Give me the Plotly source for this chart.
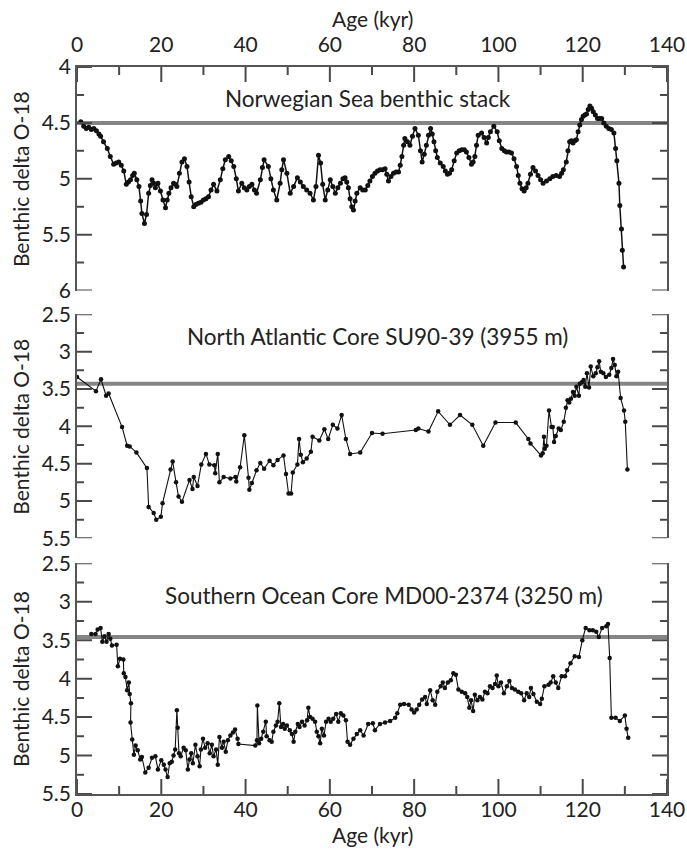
import plotly.graph_objects as go

# ---------------- data ----------------
nor_age = [0.9, 1.6, 2.2, 2.8, 3.4, 4.0, 4.6, 5.2, 5.6, 6.3, 7.2, 7.9, 8.7, 9.3, 9.9, 10.5, 11.1, 11.7, 12.2, 12.7,
           13.2, 13.6, 14.2, 14.7, 15.1, 15.4, 16.0, 16.5, 17.0, 17.4, 17.8, 18.2, 18.6, 19.2, 19.8, 20.4, 21.0, 21.4,
           21.8, 22.3, 22.9, 23.3, 23.7, 24.3, 24.9, 25.5, 26.1, 26.6, 27.1, 27.7, 28.2, 28.8, 29.4, 30.0, 30.6, 31.2,
           31.8, 32.4, 33.2, 34.0, 34.6, 35.2, 36.0, 36.6, 37.2, 37.8, 38.3, 39.1, 39.7, 40.3, 40.9, 41.5, 42.1, 42.6,
           43.5, 44.0, 44.4, 45.4, 46.0, 46.6, 47.4, 48.2, 48.6, 49.0, 49.8, 50.6, 51.4, 52.3, 53.0, 53.7, 54.5, 55.3,
           56.1, 56.7, 57.3, 57.8, 58.3, 58.9, 59.5, 60.1, 60.7, 61.3, 61.9, 62.5, 63.1, 63.6, 64.0, 64.4, 64.8, 65.2,
           65.6, 66.0, 66.4, 67.2, 67.8, 68.4, 69.0, 69.5, 70.1, 70.7, 71.3, 71.9, 72.5, 73.1, 73.5, 73.9, 74.5, 75.1,
           75.7, 76.3, 76.7, 77.1, 77.5, 77.8, 78.4, 79.0, 79.6, 80.2, 81.0, 81.5, 81.9, 82.4, 82.9, 83.4, 83.9, 84.3,
           84.7, 85.1, 85.5, 86.2, 86.9, 87.4, 87.9, 88.4, 88.9, 89.5, 90.1, 90.7, 91.3, 91.9, 92.4, 93.0, 93.6, 94.0,
           94.4, 94.8, 95.2, 96.0, 96.6, 97.2, 97.6, 98.1, 98.9, 99.7, 100.2, 100.8, 101.4, 101.9, 102.5, 103.1, 103.7,
           104.3, 104.7, 105.1, 105.6, 106.1, 106.6, 107.0, 107.6, 108.2, 108.8, 109.4, 110.0, 110.6, 111.4, 112.2,
           112.9, 113.7, 114.5, 115.0, 115.4, 116.1, 116.5, 116.9, 117.3, 117.7, 118.1, 118.5, 118.9, 119.3, 119.7,
           120.1, 120.5, 120.9, 121.3, 121.7, 122.1, 122.5, 123.0, 123.5, 124.0, 124.5, 125.0, 125.6, 126.2, 126.8,
           127.4, 127.8, 128.1, 128.6, 128.8, 129.2, 129.4, 129.7]
nor_d18o = [4.49, 4.53, 4.55, 4.54, 4.56, 4.55, 4.57, 4.60, 4.62, 4.67, 4.73, 4.80, 4.87, 4.86, 4.85, 4.88, 4.93, 5.05,
            5.03, 5.01, 4.97, 4.95, 5.01, 5.07, 5.20, 5.31, 5.40, 5.32, 5.13, 5.06, 5.01, 5.04, 5.08, 5.04, 5.11, 5.19,
            5.26, 5.19, 5.13, 5.08, 5.04, 5.05, 5.07, 4.95, 4.85, 4.82, 4.89, 5.03, 5.16, 5.25, 5.23, 5.22, 5.21, 5.19,
            5.18, 5.16, 5.10, 5.05, 5.11, 5.01, 4.91, 4.83, 4.80, 4.84, 4.89, 5.00, 5.11, 5.04, 5.08, 5.10, 5.07, 5.05,
            5.10, 5.13, 5.01, 4.90, 4.83, 4.89, 5.00, 5.10, 5.19, 5.04, 4.92, 4.83, 4.95, 5.13, 5.07, 4.99, 5.03, 5.07,
            5.10, 5.13, 5.19, 5.07, 4.79, 4.86, 5.05, 5.19, 5.10, 5.01, 5.07, 5.13, 5.08, 5.04, 5.00, 4.99, 5.03, 5.08,
            5.18, 5.25, 5.28, 5.20, 5.13, 5.08, 5.10, 5.10, 5.06, 5.02, 4.98, 4.95, 4.93, 4.92, 4.92, 4.91, 4.96, 5.02,
            4.98, 4.95, 4.94, 4.94, 4.88, 4.80, 4.70, 4.64, 4.67, 4.70, 4.62, 4.55, 4.61, 4.75, 4.85, 4.78, 4.70, 4.61,
            4.55, 4.60, 4.67, 4.75, 4.81, 4.86, 4.89, 4.93, 4.96, 4.95, 4.92, 4.84, 4.77, 4.75, 4.74, 4.74, 4.76, 4.81,
            4.87, 4.85, 4.80, 4.70, 4.61, 4.59, 4.63, 4.68, 4.63, 4.58, 4.53, 4.58, 4.66, 4.73, 4.75, 4.76, 4.76, 4.77,
            4.82, 4.89, 4.97, 5.04, 5.09, 5.11, 5.08, 5.04, 4.96, 4.90, 4.93, 4.97, 5.01, 5.04, 5.02, 5.00, 4.98, 4.97,
            4.98, 4.95, 4.92, 4.85, 4.75, 4.67, 4.66, 4.68, 4.66, 4.65, 4.58, 4.52, 4.47, 4.44, 4.43, 4.42, 4.38, 4.35,
            4.37, 4.40, 4.43, 4.46, 4.46, 4.46, 4.50, 4.53, 4.55, 4.56, 4.59, 4.73, 4.84, 5.04, 5.24, 5.45, 5.64, 5.79]

na_age = [0.0, 4.5, 5.7, 6.9, 7.5, 10.7, 11.9, 12.5, 14.1, 16.6, 17.0, 18.2, 18.8, 19.9, 20.3, 22.2, 22.7, 23.5, 24.1,
          24.9, 26.7, 27.4, 27.7, 28.6, 29.5, 30.6, 31.4, 32.6, 32.8, 33.4, 33.8, 34.8, 36.4, 37.6, 37.8, 38.7, 39.7,
          40.7, 40.9, 41.5, 42.6, 43.5, 44.4, 45.7, 46.6, 47.6, 49.0, 49.6, 50.2, 50.8, 51.2, 52.3, 52.7, 53.1, 53.6,
          54.5, 55.5, 55.9, 57.5, 58.7, 59.6, 60.7, 61.8, 62.8, 63.8, 64.8, 67.2, 70.0, 72.5, 80.4, 81.0, 83.4, 85.7,
          88.5, 90.9, 93.8, 96.4, 99.3, 104.1, 107.1, 107.6, 110.1, 110.5, 110.8, 111.0, 111.4, 112.0, 112.6, 112.9,
          113.2, 113.6, 114.3, 114.8, 115.5, 116.0, 116.4, 116.8, 117.2, 117.7, 118.1, 118.5, 119.1, 119.3, 119.8,
          120.2, 120.6, 121.0, 121.5, 121.9, 122.5, 123.1, 123.5, 123.9, 124.3, 124.9, 125.5, 126.3, 126.8, 127.2,
          127.6, 128.0, 128.4, 129.0, 129.8, 130.1, 130.6]
na_d18o = [3.34, 3.53, 3.37, 3.59, 3.56, 4.01, 4.26, 4.27, 4.35, 4.56, 5.08, 5.16, 5.25, 5.21, 5.03, 4.58, 4.47, 4.75,
           4.94, 5.01, 4.72, 4.84, 4.68, 4.80, 4.51, 4.37, 4.51, 4.52, 4.63, 4.37, 4.75, 4.68, 4.70, 4.68, 4.74, 4.55,
           4.12, 4.69, 4.85, 4.76, 4.59, 4.49, 4.57, 4.46, 4.52, 4.45, 4.39, 4.64, 4.90, 4.90, 4.62, 4.51, 4.17, 4.38,
           4.48, 4.43, 4.34, 4.14, 4.19, 4.04, 4.17, 3.98, 4.03, 3.85, 4.17, 4.37, 4.35, 4.09, 4.10, 4.05, 4.03, 4.07,
           3.80, 3.98, 3.85, 3.98, 4.26, 3.95, 3.95, 4.17, 4.23, 4.39, 4.36, 4.14, 4.30, 4.26, 3.79, 4.01, 4.01, 4.21,
           4.13, 4.03, 4.05, 3.94, 3.75, 3.65, 3.68, 3.63, 3.54, 3.59, 3.47, 3.59, 3.43, 3.41, 3.38, 3.47, 3.29, 3.48,
           3.20, 3.33, 3.29, 3.21, 3.13, 3.27, 3.29, 3.34, 3.31, 3.22, 3.10, 3.18, 3.33, 3.27, 3.62, 3.79, 3.94, 4.58]

so_age = [3.4, 4.4, 4.9, 5.6, 6.0, 6.5, 7.0, 7.5, 7.9, 8.3, 9.4, 9.7, 10.2, 11.0, 11.1, 11.5, 11.9, 12.3, 12.5, 12.8,
          12.7, 13.1, 13.5, 13.9, 14.4, 15.0, 15.4, 16.2, 17.0, 17.8, 18.6, 19.2, 20.0, 20.6, 21.0, 21.5, 22.0, 22.5,
          22.9, 23.3, 23.7, 23.9, 24.2, 24.6, 25.3, 25.8, 26.3, 26.7, 27.1, 27.5, 28.1, 28.6, 29.1, 29.4, 29.9, 30.4,
          31.0, 31.5, 32.0, 32.4, 33.0, 33.4, 33.8, 34.4, 34.8, 35.3, 35.8, 36.4, 37.0, 37.5, 38.1, 38.3, 42.3, 42.7,
          42.8, 43.2, 43.7, 44.2, 44.8, 45.0, 45.7, 46.2, 46.6, 47.2, 47.6, 48.0, 48.4, 48.9, 49.3, 49.8, 50.5, 51.0,
          51.4, 51.8, 52.4, 52.8, 53.4, 54.0, 54.6, 54.9, 55.3, 55.9, 56.5, 56.9, 57.3, 57.7, 58.1, 58.6, 59.1, 59.7,
          60.2, 60.8, 61.5, 62.0, 62.6, 63.2, 63.8, 64.2, 64.8, 65.6, 66.4, 67.2, 68.0, 69.1, 70.2, 70.7, 71.9, 73.1,
          74.3, 75.5, 76.0, 76.7, 77.6, 78.7, 79.4, 80.0, 80.6, 81.2, 81.9, 82.6, 83.0, 83.8, 84.4, 85.0, 85.5, 86.3,
          86.8, 87.3, 88.0, 88.7, 89.3, 89.9, 90.5, 91.3, 92.1, 92.6, 93.1, 93.5, 94.0, 94.4, 95.0, 95.6, 96.2, 96.8,
          97.4, 98.0, 98.6, 99.2, 99.6, 100.0, 100.6, 101.3, 102.0, 102.6, 103.2, 103.9, 104.7, 105.4, 106.1, 106.7,
          107.3, 107.7, 108.3, 109.1, 109.9, 110.3, 110.9, 111.9, 112.4, 113.0, 113.6, 114.2, 115.0, 115.8, 116.3,
          117.1, 118.1, 119.1, 119.9, 120.7, 121.6, 122.4, 123.2, 123.8, 124.6, 125.6, 126.0, 126.4, 126.8, 127.8,
          128.8, 130.0, 130.4, 130.8]
so_d18o = [3.42, 3.42, 3.36, 3.34, 3.52, 3.45, 3.52, 3.42, 3.48, 3.57, 3.56, 3.84, 3.74, 3.75, 3.93, 3.98, 4.15, 4.05,
           4.20, 4.32, 4.57, 4.79, 4.99, 4.87, 4.93, 5.05, 5.02, 5.22, 5.16, 5.03, 5.01, 5.18, 5.06, 5.12, 5.18, 5.28,
           5.10, 5.08, 5.00, 4.92, 4.41, 4.64, 4.97, 5.01, 4.90, 4.93, 5.18, 5.05, 4.97, 5.10, 4.86, 5.01, 5.14, 4.92,
           4.78, 4.90, 4.84, 4.97, 4.86, 5.01, 4.92, 5.12, 4.76, 4.90, 4.82, 4.95, 4.80, 4.74, 4.70, 4.66, 4.78, 4.85,
           4.87, 4.80, 4.35, 4.84, 4.78, 4.69, 4.56, 4.75, 4.80, 4.82, 4.69, 4.61, 4.56, 4.32, 4.63, 4.59, 4.65, 4.61,
           4.67, 4.72, 4.82, 4.69, 4.59, 4.63, 4.56, 4.61, 4.54, 4.38, 4.50, 4.52, 4.56, 4.69, 4.75, 4.84, 4.65, 4.74,
           4.56, 4.52, 4.56, 4.52, 4.46, 4.56, 4.45, 4.48, 4.54, 4.82, 4.86, 4.78, 4.72, 4.67, 4.74, 4.59, 4.58, 4.67,
           4.59, 4.57, 4.55, 4.51, 4.45, 4.34, 4.33, 4.34, 4.40, 4.44, 4.40, 4.34, 4.27, 4.24, 4.33, 4.15, 4.28, 4.34,
           4.17, 4.10, 4.05, 4.12, 4.05, 4.02, 3.93, 3.95, 4.14, 4.17, 4.19, 4.24, 4.38, 4.28, 4.42, 4.21, 4.28, 4.24,
           4.27, 4.17, 4.19, 4.10, 4.12, 4.07, 3.96, 4.10, 4.05, 4.19, 4.10, 4.03, 4.12, 4.14, 4.17, 4.19, 4.28, 4.19,
           4.24, 4.12, 4.20, 4.30, 4.33, 4.26, 4.10, 4.08, 4.05, 3.97, 4.05, 4.12, 3.97, 3.97, 3.89, 3.80, 3.71, 3.72,
           3.50, 3.34, 3.37, 3.37, 3.39, 3.46, 3.34, 3.32, 3.29, 3.73, 4.51, 4.51, 4.55, 4.48, 4.65, 4.77]

panel_titles = ["Norwegian Sea benthic stack",
                "North Atlantic Core SU90-39 (3955 m)",
                "Southern Ocean Core MD00-2374 (3250 m)"]
ref_levels = [4.5, 3.43, 3.46]
y_ranges = [[6, 4], [5.5, 2.5], [5.5, 2.5]]
x_title = "Age (kyr)"
y_title = "Benthic delta O-18"
x_span = [0, 140]
x_major = [0, 20, 40, 60, 80, 100, 120, 140]
x_minor = [10, 30, 50, 70, 90, 110, 130]
y_major = [[4, 4.5, 5, 5.5, 6],
           [2.5, 3, 3.5, 4, 4.5, 5, 5.5],
           [2.5, 3, 3.5, 4, 4.5, 5, 5.5]]
y_minor = [[4.25, 4.75, 5.25, 5.75],
           [2.75, 3.25, 3.75, 4.25, 4.75, 5.25],
           [2.75, 3.25, 3.75, 4.25, 4.75, 5.25]]

# ---------------- figure ----------------
FONT = "Lato, 'Open Sans', sans-serif"
AXC = "#555555"
TKC = "#4a4a4a"
fig = go.Figure()

H = 727.0
W = 590.0
def pd(py):
    return (794.0 - py) / H

domains = [[pd(290.5), 1.0], [pd(538.3), pd(314.3)], [0.0, pd(563.3)]]
panel_px = [(d[1] - d[0]) * H for d in domains]
tickfont = dict(family=FONT, size=21, color="#222")

series = [(nor_age, nor_d18o), (na_age, na_d18o), (so_age, so_d18o)]
line_w = [1.5, 1.1, 1.1]
mark_s = [5, 4.5, 4.5]
for i, (xs, ys) in enumerate(series):
    xa = "x" if i == 0 else f"x{i+1}"
    ya = "y" if i == 0 else f"y{i+1}"
    fig.add_trace(go.Scatter(x=x_span, y=[ref_levels[i]] * 2, mode="lines",
                             line=dict(color="#858585", width=4), xaxis=xa, yaxis=ya,
                             hoverinfo="skip", showlegend=False))
    fig.add_trace(go.Scatter(x=xs, y=ys, mode="lines+markers",
                             line=dict(color="#111111", width=line_w[i]),
                             marker=dict(size=mark_s[i], color="#111111"),
                             xaxis=xa, yaxis=ya, showlegend=False))

# inside tick marks, drawn as line segments at the tick values of each axis
kx = (x_span[1] - x_span[0]) / W            # x units per pixel
for i in range(3):
    xa = "x" if i == 0 else f"x{i+1}"
    ya = "y" if i == 0 else f"y{i+1}"
    lo, hi = min(y_ranges[i]), max(y_ranges[i])
    ky = (hi - lo) / panel_px[i]            # y units per pixel
    tx, ty = [], []
    for vals, ln in ((y_major[i], 15.0), (y_minor[i], 7.0)):
        for v in vals:
            tx += [x_span[0], x_span[0] + ln * kx, None, x_span[1], x_span[1] - ln * kx, None]
            ty += [v, v, None, v, v, None]
    if i == 0:       # top axis of first panel (value lo at top, inside = larger values)
        for vals, ln in ((x_major, 15.0), (x_minor, 8.0)):
            for v in vals:
                tx += [v, v, None]
                ty += [lo, lo + ln * ky, None]
    if i == 2:       # bottom axis of last panel (value hi at bottom, inside = smaller values)
        for vals, ln in ((x_major, 15.0), (x_minor, 8.0)):
            for v in vals:
                tx += [v, v, None]
                ty += [hi, hi - ln * ky, None]
    fig.add_trace(go.Scatter(x=tx, y=ty, mode="lines", line=dict(color=TKC, width=2),
                             xaxis=xa, yaxis=ya, hoverinfo="skip", showlegend=False))

lay = {}
for i in range(3):
    key = "xaxis" if i == 0 else f"xaxis{i+1}"
    ax = dict(range=x_span, tickvals=x_major, ticks="", showline=True, linecolor=AXC, linewidth=1.6,
              showgrid=False, zeroline=False, automargin=False, tickfont=tickfont,
              anchor="y" if i == 0 else f"y{i+1}")
    if i == 0:
        ax.update(side="top", ticklabelstandoff=5)
    elif i == 1:
        ax.update(visible=False)
    else:
        ax.update(ticklabelstandoff=-4)
    lay[key] = ax

    ykey = "yaxis" if i == 0 else f"yaxis{i+1}"
    lay[ykey] = dict(range=y_ranges[i], tickvals=y_major[i], ticks="", showline=True, linecolor=AXC,
                     linewidth=1.6, mirror=True, showgrid=False, zeroline=False, domain=domains[i],
                     automargin=False, anchor="x" if i == 0 else f"x{i+1}", tickfont=tickfont)

title_pos = [(69.1, 4.28), (71.4, 2.80), (72.9, 2.92)]
annotations = []
for i, t in enumerate(panel_titles):
    annotations.append(dict(text=t, x=title_pos[i][0], y=title_pos[i][1],
                            xref="x" if i == 0 else f"x{i+1}", yref="y" if i == 0 else f"y{i+1}",
                            showarrow=False, xanchor="center", yanchor="middle",
                            font=dict(family=FONT, size=22.5, color="#222")))
    annotations.append(dict(text=y_title, textangle=-90, x=-0.096,
                            y=(domains[i][0] + domains[i][1]) / 2, xref="paper", yref="paper",
                            showarrow=False, xanchor="center", yanchor="middle",
                            font=dict(family=FONT, size=21, color="#222")))
annotations.append(dict(text=x_title, x=0.5, y=(794 - 19) / H, xref="paper", yref="paper",
                        showarrow=False, xanchor="center", yanchor="middle",
                        font=dict(family=FONT, size=21, color="#222")))
annotations.append(dict(text=x_title, x=0.5, y=(794 - 835) / H, xref="paper", yref="paper",
                        showarrow=False, xanchor="center", yanchor="middle",
                        font=dict(family=FONT, size=21, color="#222")))

fig.update_layout(width=687, height=849, margin=dict(l=77, r=20, t=67, b=55, autoexpand=False),
                  paper_bgcolor="white", plot_bgcolor="white", annotations=annotations, **lay)
fig.write_html("out.html", config={"displayModeBar": False},
               post_script="document.body.style.margin='0';document.body.style.overflow='hidden';")
